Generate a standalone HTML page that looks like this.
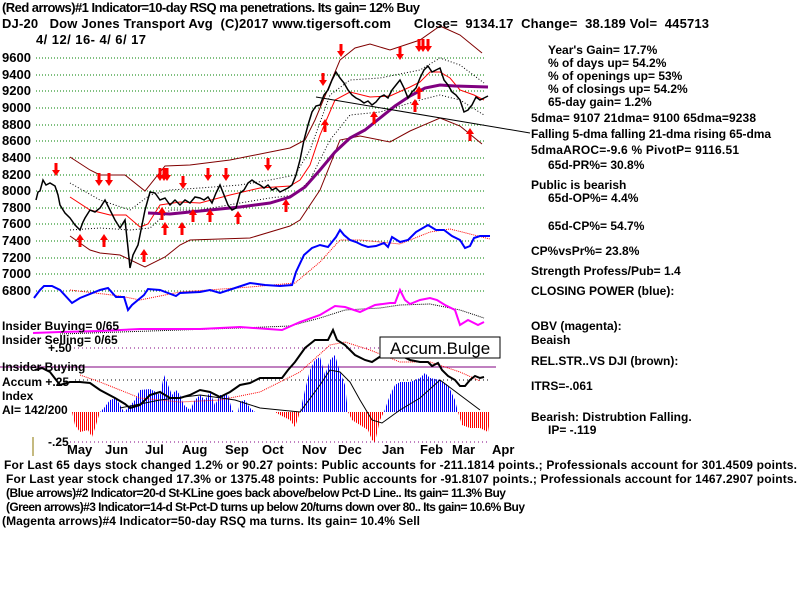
<!DOCTYPE html>
<html><head><meta charset="utf-8"><style>
body{margin:0;background:#fff}
svg{display:block}
text{font-family:"Liberation Sans",sans-serif;font-weight:bold;font-size:12px;fill:#000}
.t{font-size:13px}
</style></head><body>
<svg width="800" height="600" viewBox="0 0 800 600" xmlns="http://www.w3.org/2000/svg">
<defs>
<pattern id="pb" width="2" height="4" patternUnits="userSpaceOnUse"><rect width="1" height="4" fill="#0000ff"/></pattern>
<pattern id="pr" width="2" height="4" patternUnits="userSpaceOnUse"><rect width="1" height="4" fill="#ff0000"/></pattern>
<g id="dn"><rect x="-1.5" y="-7" width="3" height="8" fill="#f00"/><polygon points="-4,0 4,0 0,6" fill="#f00"/></g>
<g id="up"><rect x="-1.5" y="-1" width="3" height="8" fill="#f00"/><polygon points="-4,0 4,0 0,-6" fill="#f00"/></g>
</defs>
<g stroke="#008000" stroke-dasharray="1,2" stroke-width="1">
<line x1="36" y1="58" x2="484" y2="58"/><line x1="36" y1="75" x2="484" y2="75"/><line x1="36" y1="91" x2="484" y2="91"/><line x1="36" y1="108" x2="484" y2="108"/><line x1="36" y1="125" x2="484" y2="125"/><line x1="36" y1="141" x2="484" y2="141"/><line x1="36" y1="158" x2="484" y2="158"/><line x1="36" y1="175" x2="484" y2="175"/><line x1="36" y1="191" x2="484" y2="191"/><line x1="36" y1="208" x2="484" y2="208"/><line x1="36" y1="224" x2="484" y2="224"/><line x1="36" y1="241" x2="484" y2="241"/><line x1="36" y1="258" x2="484" y2="258"/><line x1="36" y1="274" x2="484" y2="274"/><line x1="36" y1="291" x2="484" y2="291"/>
</g>
<g>
<text x="2" y="62" class="t">9600</text><text x="2" y="79" class="t">9400</text><text x="2" y="95" class="t">9200</text><text x="2" y="112" class="t">9000</text><text x="2" y="129" class="t">8800</text><text x="2" y="145" class="t">8600</text><text x="2" y="162" class="t">8400</text><text x="2" y="179" class="t">8200</text><text x="2" y="195" class="t">8000</text><text x="2" y="212" class="t">7800</text><text x="2" y="228" class="t">7600</text><text x="2" y="245" class="t">7400</text><text x="2" y="262" class="t">7200</text><text x="2" y="278" class="t">7000</text><text x="2" y="295" class="t">6800</text>
</g>
<g fill="none" stroke="#800000" stroke-width="1">
<polyline points="70,157 90,170 100,175 125,175 145,191 165,166 190,165 230,160 290,148 305,140 315,120 340,60 355,48 370,44 390,50 420,40 440,26 460,35 482,53"/>
<polyline points="70,236 90,250 100,253 120,255 145,267 165,257 180,245 190,240 250,238 290,226 300,220 320,190 340,140 360,136 390,142 410,131 440,118 460,126 482,144"/>
</g>
<g fill="none" stroke="#000" stroke-width="1" stroke-dasharray="1,2">
<polyline points="70,183 100,200 130,210 150,195 170,190 200,188 240,185 270,180 295,175 310,150 330,95 350,80 380,78 420,70 440,58 460,65 484,83"/>
<polyline points="70,230 100,228 130,230 150,228 170,210 200,210 240,203 270,198 295,195 310,180 330,140 350,115 380,112 420,100 440,95 460,100 484,115"/>
</g>
<polyline fill="none" stroke="#f00" stroke-width="1" points="70,197 90,210 110,215 126,215 140,227 148,224 160,205 180,202 200,203 230,195 260,188 290,186 300,180 310,165 320,135 335,100 350,92 370,97 390,96 410,87 420,82 430,72 440,72 450,78 460,90 474,95 484,100"/>
<polyline fill="none" stroke="#800080" stroke-width="3" points="148,213 170,214 200,211 240,207 270,203 290,197 305,187 320,170 335,152 350,138 365,130 380,118 395,106 410,96 425,88 440,85 455,86 488,87"/>
<polyline fill="none" stroke="#000" stroke-width="1.5" points="36,200 38,192 40,191 43,180 46,185 50,183 55,186 58,195 60,205 65,213 70,218 75,225 80,230 83,222 85,218 90,210 95,212 100,208 105,200 110,210 115,220 120,228 125,220 128,248 130,268 133,255 138,245 142,225 145,210 150,192 155,193 160,200 165,198 170,205 175,200 180,205 185,200 190,203 195,197 200,198 204,200 208,197 212,203 216,193 220,185 224,195 228,205 232,210 236,208 240,193 244,190 248,183 252,180 256,183 260,185 264,188 268,185 272,190 276,188 280,192 284,190 288,188 292,185 296,175 300,160 304,140 308,125 312,112 316,106 320,105 324,95 328,90 332,80 336,72 340,78 344,83 348,90 352,95 356,98 360,100 364,103 368,101 372,105 376,102 380,97 384,95 388,98 392,90 396,85 400,80 404,88 408,98 412,92 416,88 420,78 424,70 428,66 432,72 436,70 440,68 444,80 448,85 452,92 456,95 460,100 464,112 468,110 472,105 476,97 480,100 484,98 488,96"/>
<line x1="316" y1="97" x2="530" y2="133" stroke="#000" stroke-width="1"/>
<use href="#dn" x="56" y="170"/><use href="#dn" x="99" y="180"/><use href="#dn" x="109" y="180"/><use href="#dn" x="160" y="175"/><use href="#dn" x="164" y="175"/><use href="#dn" x="167" y="175"/><use href="#dn" x="183" y="183"/><use href="#dn" x="208" y="175"/><use href="#dn" x="226" y="175"/><use href="#dn" x="268" y="165"/><use href="#dn" x="323" y="80"/><use href="#dn" x="341" y="51"/><use href="#dn" x="400" y="54"/><use href="#dn" x="419" y="46"/><use href="#dn" x="423" y="46"/><use href="#dn" x="428" y="46"/>
<use href="#up" x="80" y="240"/><use href="#up" x="104" y="240"/><use href="#up" x="144" y="255"/><use href="#up" x="162" y="213"/><use href="#up" x="165" y="228"/><use href="#up" x="182" y="228"/><use href="#up" x="193" y="215"/><use href="#up" x="210" y="215"/><use href="#up" x="238" y="217"/><use href="#up" x="286" y="205"/><use href="#up" x="325" y="125"/><use href="#up" x="374" y="117"/><use href="#up" x="415" y="105"/><use href="#up" x="419" y="92"/><use href="#up" x="470" y="134"/>
<polyline fill="none" stroke="#f00" stroke-width="1" stroke-dasharray="1,1" points="70,290 120,296 140,300 180,292 250,287 295,283 320,262 340,240 360,240 400,244 430,232 450,229 470,234 490,239"/>
<polyline fill="none" stroke="#0000ff" stroke-width="2" points="34,298 40,290 44,286 52,286 60,290 72,303 80,298 100,290 108,288 116,297 124,297 128,310 132,305 144,295 148,289 160,290 176,296 180,293 200,292 210,290 220,293 235,288 250,283 265,285 280,286 292,285 296,272 304,255 312,248 320,245 328,247 336,237 340,230 344,235 350,240 356,242 362,245 368,247 376,246 384,243 388,247 392,237 400,242 408,240 416,232 428,225 436,230 444,230 452,236 460,240 465,248 470,246 474,238 480,236 490,236"/>
<polyline fill="none" stroke="#000" stroke-width="1" stroke-dasharray="1,1" points="60,334 150,331 240,328 290,326 320,318 345,310 380,308 400,305 430,304 460,310 484,318"/>
<polyline fill="none" stroke="#ff00ff" stroke-width="2" points="33,333 60,332 100,331 140,329 200,329 240,327 282,330 300,322 320,315 335,306 345,307 360,312 375,305 390,303 395,303 400,290 405,300 410,304 420,300 430,298 437,300 445,305 455,310 460,325 468,320 478,325 484,322"/>
<g stroke="#800080" stroke-dasharray="1,3"><line x1="70" y1="348" x2="490" y2="348"/><line x1="70" y1="442" x2="490" y2="442"/></g>
<line x1="75" y1="380" x2="490" y2="380" stroke="#000" stroke-dasharray="1,3"/>
<line x1="0" y1="367" x2="496" y2="367" stroke="#800080" stroke-width="1"/>
<polygon fill="url(#pr)" points="72,412 75,425 80,432 88,430 92,437 96,425 100,412"/>
<polygon fill="url(#pb)" points="100,412 104,408 110,400 116,398 120,405 124,412 128,408 135,400 140,390 150,389 156,392 160,395 164,375 168,385 172,395 176,390 180,395 184,405 190,410 195,400 200,395 205,400 210,392 215,405 220,395 228,395 232,410 234,412 236,412 238,412 240,402 245,400 250,408 255,412"/>
<polygon fill="url(#pr)" points="275,412 280,415 290,420 295,427 300,412"/>
<polygon fill="url(#pb)" points="300,412 305,390 310,370 315,360 320,357 325,375 330,360 335,355 340,372 345,385 348,412"/>
<polygon fill="url(#pr)" points="348,412 352,420 360,425 368,430 372,440 375,442 380,420 384,412"/>
<polygon fill="url(#pb)" points="384,412 390,395 395,385 400,382 410,382 420,378 425,373 430,378 440,380 448,385 455,400 458,412"/>
<polygon fill="url(#pr)" points="458,412 462,425 470,428 480,428 488,432 490,420 490,412"/>
<polyline fill="none" stroke="#f00" stroke-width="1" stroke-dasharray="1,1" points="80,375 100,382 140,398 180,402 220,400 260,392 300,372 330,345 345,342 370,350 400,362 430,362 460,372 480,381"/>
<polyline fill="none" stroke="#000" stroke-width="1" points="120,408 160,400 200,395 235,400 260,408 300,412 320,385 330,370 340,372 350,382 360,400 372,420 382,423 400,410 420,398 440,380 460,395 480,410"/>
<polyline fill="none" stroke="#000" stroke-width="2" points="35,370 42,368 50,372 60,385 70,382 80,382 90,383 100,390 115,398 125,404 130,408 140,405 150,395 160,392 170,398 180,398 190,395 200,390 210,392 220,397 230,392 240,385 250,383 260,378 270,378 282,378 288,370 295,362 305,348 315,340 320,340 328,340 333,330 337,340 345,345 355,355 365,360 372,362 378,358 390,350 400,355 410,360 420,362 428,362 432,366 438,363 442,370 448,376 455,380 460,386 465,386 470,380 475,376 480,378 484,377"/>
<rect x="380" y="337" width="120" height="21" fill="#fff" stroke="#000"/>
<text x="390" y="354" style="font-weight:normal;font-size:17px">Accum.Bulge</text>
<line x1="33" y1="437" x2="33" y2="456" stroke="#8b7500"/>
<text x="2" y="330">Insider Buying= 0/65</text>
<text x="2" y="344">Insider Selling= 0/65</text>
<text x="48" y="352">+.50</text>
<text x="2" y="371">Insider Buying</text>
<text x="2" y="386">Accum  +.25</text>
<text x="2" y="400">Index</text>
<text x="2" y="414">AI= 142/200</text>
<text x="48" y="446">-.25</text>
<g><text x="67" y="454" class="t">May</text><text x="105" y="454" class="t">Jun</text><text x="145" y="454" class="t">Jul</text><text x="182" y="454" class="t">Aug</text><text x="225" y="454" class="t">Sep</text><text x="262" y="454" class="t">Oct</text><text x="302" y="454" class="t">Nov</text><text x="338" y="454" class="t">Dec</text><text x="382" y="454" class="t">Jan</text><text x="420" y="454" class="t">Feb</text><text x="452" y="454" class="t">Mar</text><text x="492" y="454" class="t">Apr</text></g>
<text x="2" y="12" class="t" textLength="418">(Red arrows)#1 Indicator=10-day RSQ ma penetrations. Its gain= 12% Buy</text>
<text x="2" y="28" class="t" textLength="707" xml:space="preserve">DJ-20   Dow Jones Transport Avg  (C)2017 www.tigersoft.com      Close=  9134.17  Change=  38.189 Vol=  445713</text>
<text x="36" y="44" class="t" textLength="110">4/ 12/ 16- 4/ 6/ 17</text>
<text x="548" y="54">Year's Gain= 17.7%</text>
<text x="548" y="67">% of days up= 54.2%</text>
<text x="548" y="80">% of openings up= 53%</text>
<text x="548" y="93">% of closings up= 54.2%</text>
<text x="548" y="106">65-day gain= 1.2%</text>
<text x="531" y="122" textLength="225">5dma= 9107 21dma= 9100 65dma=9238</text>
<text x="531" y="138" textLength="240">Falling 5-dma  falling 21-dma  rising 65-dma</text>
<text x="531" y="154" textLength="208">5dmaAROC=-9.6 %  PivotP= 9116.51</text>
<text x="548" y="169">65d-PR%= 30.8%</text>
<text x="531" y="189">Public is bearish</text>
<text x="548" y="202">65d-OP%= 4.4%</text>
<text x="548" y="230">65d-CP%= 54.7%</text>
<text x="531" y="255">CP%vsPr%=  23.8%</text>
<text x="531" y="275">Strength Profess/Pub= 1.4</text>
<text x="531" y="295">CLOSING POWER (blue):</text>
<text x="531" y="330">OBV (magenta):</text>
<text x="531" y="344">Beaish</text>
<text x="531" y="365">REL.STR..VS DJI (brown):</text>
<text x="531" y="390">ITRS=-.061</text>
<text x="531" y="421">Bearish: Distrubtion Falling.</text>
<text x="548" y="434">IP= -.119</text>
<text x="4" y="469" textLength="793">For Last 65 days stock changed  1.2% or  90.27 points:  Public accounts for -211.1814 points.;  Professionals account for  301.4509 points.</text>
<text x="6" y="483" textLength="791">For Last year stock changed  17.3% or  1375.48 points:  Public accounts for -91.8107 points.;  Professionals account for  1467.2907 points.</text>
<text x="6" y="497" textLength="500">(Blue arrows)#2 Indicator=20-d St-KLine goes back above/below Pct-D Line.. Its gain= 11.3% Buy</text>
<text x="6" y="511" textLength="519">(Green arrows)#3 Indicator=14-d St-Pct-D turns up below 20/turns down over 80.. Its gain= 10.6% Buy</text>
<text x="2" y="525" textLength="418">(Magenta arrows)#4 Indicator=50-day RSQ ma turns. Its gain= 10.4% Sell</text>
</svg>
</body></html>
